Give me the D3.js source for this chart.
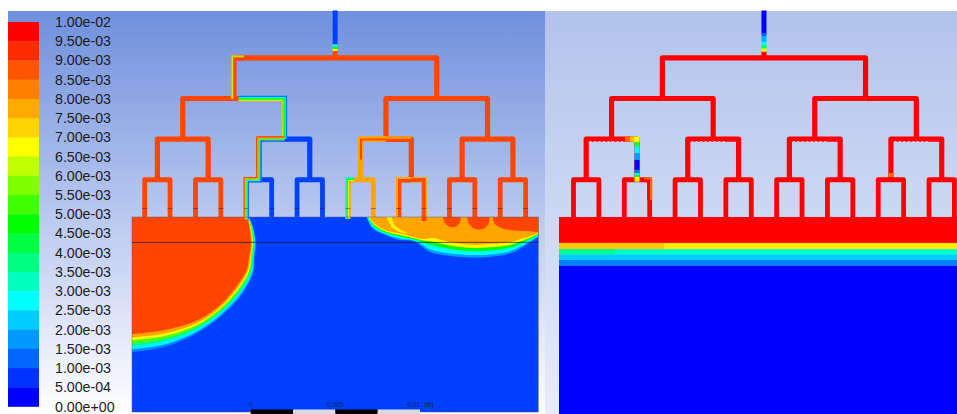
<!DOCTYPE html>
<html>
<head>
<meta charset="utf-8">
<title>Volume fraction contours</title>
<script src="https://cdn.jsdelivr.net/npm/d3@7"></script>
<style>
html, body { margin: 0; padding: 0; background: #fff; }
svg { display: block; }
text { font-family: "Liberation Sans", Arial, sans-serif; }
</style>
</head>
<body>
<div id="chart"></div>
<script>
// legend
var legendLabels = ["1.00e-02", "9.50e-03", "9.00e-03", "8.50e-03", "8.00e-03", "7.50e-03", "7.00e-03",
    "6.50e-03", "6.00e-03", "5.50e-03", "5.00e-03", "4.50e-03", "4.00e-03", "3.50e-03", "3.00e-03",
    "2.50e-03", "2.00e-03", "1.50e-03", "1.00e-03", "5.00e-04", "0.00e+00"];
var rainbowStops = [0.00025, 0.00275, 0.00475, 0.00675, 0.00975];
var rainbowColors = ["#0000ff", "#00ffff", "#00ff00", "#ffff00", "#ff0000"];

// field levels
var BURN = 0.00894, AMBER = 0.00781, COLD = 0.00088, FULL = 0.01, EMPTY = 0.0002;

// geometry in mm, plate top is depth 0
var plateWidth = 24, plateDepth = 11.52;
var inletTop = -12.2;
var levelDepths = [-9.4, -7, -4.6, -2.2, 0];
var branchWidths = [5.2, 5.2, 5.2, 4.8];
var meterDepth = -0.5, cutDepth = 1.5;

// left panel: base value of each branch, per level
var leftLevel1 = [BURN, BURN];
var leftLevel2 = [BURN, BURN, BURN, BURN];
var leftLevel3 = [BURN, BURN, BURN, COLD, AMBER, BURN, BURN, BURN];
var leftLevel4 = [BURN, BURN, BURN, BURN, BURN, COLD, COLD, COLD,
    AMBER, AMBER, AMBER, BURN, BURN, BURN, BURN, BURN];
var leftInletDepths = [-12.2, -10.2, -10.05, -9.93, -9.8];
var leftInletValues = [COLD, 0.0027, 0.0048, 0.0068];

// left panel: films running along channels, first value on the walker's right
var leftFilms = [
    {route: [[6.6, -9.4], [6, -9.4], [6, -7]], values: [AMBER, 0.0062, 0.0085, BURN, BURN]},
    {route: [[6.3, -7], [9, -7], [9, -4.6]], values: [0.0072, 0.0055, 0.0045, 0.0029, 0.0014]},
    {route: [[9, -4.6], [7.5, -4.6], [7.5, -2.2], [6.75, -2.2], [6.75, 0.15]], values: [BURN, AMBER, 0.0055, 0.0029, 0.0014]},
    {route: [[13.5, -3.4], [13.5, -2.2]], values: [AMBER]},
    {route: [[15, -4.6], [13.5, -4.6], [13.5, -3.4]], values: [AMBER, AMBER, BURN, BURN, AMBER]},
    {route: [[15, -4.6], [16.5, -4.6]], values: [BURN, BURN, BURN, AMBER, AMBER]},
    {route: [[13.1, -2.2], [12.75, -2.2], [12.75, 0.12]], values: [0.0027, 0.0036, 0.005, 0.0067, AMBER]},
    {route: [[16.5, -2.2], [15.75, -2.2], [15.75, 0]], values: [AMBER, AMBER, BURN, BURN, BURN]},
    {route: [[16.5, -2.2], [17.25, -2.2], [17.25, 0]], values: [AMBER, BURN, BURN, BURN, AMBER]}
];

// left panel: contours of the big front, from the red core outwards
var blobRed = [[6.83, 0], [6.93, 0.59], [7.03, 1.48], [6.91, 2.42], [6.77, 3.13], [6.14, 4.13], [5.2, 5.2], [3.9, 6.08], [1.95, 6.67], [0, 6.91]];
var blobOrange = [[6.85, 0], [6.98, 0.59], [7.09, 1.48], [6.98, 2.42], [6.85, 3.16], [6.19, 4.25], [5.2, 5.34], [3.88, 6.24], [1.93, 6.88], [0, 7.11]];
var blobYellow = [[6.86, 0], [7.01, 0.59], [7.13, 1.48], [7.03, 2.42], [6.91, 3.2], [6.22, 4.34], [5.2, 5.44], [3.87, 6.36], [1.91, 7.03], [0, 7.28]];
var blobLime = [[6.87, 0], [7.05, 0.59], [7.17, 1.48], [7.08, 2.42], [6.97, 3.22], [6.26, 4.44], [5.2, 5.56], [3.86, 6.48], [1.9, 7.19], [0, 7.45]];
var blobTeal = [[6.88, 0], [7.08, 0.59], [7.21, 1.48], [7.13, 2.42], [7.03, 3.25], [6.3, 4.52], [5.2, 5.66], [3.85, 6.6], [1.88, 7.35], [0, 7.61]];
var blobCyan = [[6.9, 0], [7.13, 0.59], [7.27, 1.48], [7.19, 2.42], [7.1, 3.29], [6.34, 4.64], [5.2, 5.8], [3.83, 6.76], [1.86, 7.55], [0, 7.82]];
var blobOuter = [[6.91, 0], [7.16, 0.59], [7.31, 1.48], [7.24, 2.42], [7.16, 3.31], [6.38, 4.73], [5.2, 5.91], [3.82, 6.88], [1.85, 7.7], [0, 7.98]];
var blobFronts = [blobOuter, blobCyan, blobTeal, blobLime, blobYellow, blobOrange, blobRed];
var blobValues = [0.0016, 0.0026, 0.0037, 0.0054, 0.0068, AMBER, BURN];

// left panel: contours of the shallow front on the right
var shallowOuter = [[13.85, 0], [14.18, 0.65], [14.94, 1.06], [15.83, 1.36], [16.54, 1.42], [17.01, 1.65], [17.6, 2.07], [18.78, 2.3], [19.96, 2.39], [21.14, 2.36], [22.32, 2.16], [23.15, 1.74], [24.04, 1.15]];
var shallowCyan = [[13.89, 0], [14.22, 0.6], [14.98, 1.01], [15.87, 1.29], [16.58, 1.38], [17.06, 1.58], [17.62, 1.92], [18.78, 2.15], [19.96, 2.24], [21.14, 2.21], [22.32, 2.02], [23.15, 1.64], [24.04, 1.11]];
var shallowLime = [[13.94, 0], [14.27, 0.53], [15.03, 0.95], [15.92, 1.18], [16.63, 1.32], [17.13, 1.48], [17.66, 1.66], [18.78, 1.89], [19.96, 2.01], [21.14, 1.98], [22.32, 1.82], [23.15, 1.49], [24.04, 1.05]];
var shallowYellow = [[13.98, 0], [14.31, 0.47], [15.07, 0.89], [15.96, 1.09], [16.68, 1.26], [17.19, 1.39], [17.69, 1.45], [18.78, 1.69], [19.96, 1.82], [21.14, 1.79], [22.32, 1.65], [23.15, 1.37], [24.04, 0.99]];
var shallowOrange = [[14.03, 0], [14.36, 0.41], [15.12, 0.83], [16, 1], [16.72, 1.21], [17.25, 1.3], [17.72, 1.24], [18.78, 1.48], [19.96, 1.63], [21.14, 1.6], [22.32, 1.48], [23.15, 1.24], [24.04, 0.94]];
var shallowFronts = [shallowOuter, shallowCyan, shallowLime, shallowYellow, shallowOrange];
var shallowValues = [0.0018, 0.0028, 0.0048, 0.0068, AMBER];

var filament = [[15.04, 0], [15.3, 0], [15.55, 0.53], [16.27, 0.96], [15.83, 0.89], [15.33, 0.6]];
var lobes = [
    [[17.1, 0], [17.12, 0.2], [17.25, 0.26], [17.38, 0.2], [17.4, 0]],
    [[18.38, 0], [18.45, 0.3], [18.75, 0.58], [19.1, 0.58], [19.38, 0.3], [19.42, 0]],
    [[19.8, 0], [19.88, 0.35], [20.2, 0.68], [20.7, 0.72], [21.05, 0.42], [21.12, 0]],
    [[21.3, 0], [21.42, 0.4], [21.9, 0.68], [22.6, 0.8], [23.4, 0.83], [24.04, 0.83], [24.04, 0]]
];

// right panel
var rightInletDepths = [-12.2, -10.87, -10.69, -10.35, -10.16, -9.96, -9.76];
var rightInletValues = [EMPTY, 0.0012, 0.002, 0.0027, 0.004, 0.0065];
var rightStemDepths = [-4.6, -4.43, -4.25, -4.08, -3.78, -3.37, -2.78, -2.6, -2.48, -2.36, -2.1];
var rightStemValues = [0.0067, 0.005, 0.0035, 0.0027, 0.0018, EMPTY, 0.0015, 0.0027, 0.005, 0.0067];
var rightElbowX = [3.79, 4.09, 4.32, 4.62];
var rightElbowValues = [0.0085, 0.0075, 0.0067];
var rightFilm = {route: [[4.9, -2.2], [5.25, -2.2], [5.25, -1]], values: [FULL, FULL, FULL, 0.0085, 0.0085]};
var rightSpotDepths = [-2.6, -2.38];
var rightSpotX = 19.5, rightSpotValue = 0.0085;
var speckleCentres = [3, 9, 15, 21];
var speckleDepth = -4.45;
// bands below the full part of the right plate: depth limits and values at the left and right end
var rightBandDepths = [0, 1.53, 1.9, 2.22, 2.54, 2.89, plateDepth + 0.12];
var rightBandLeft = [FULL, 0.0074, 0.0036, 0.00225, 0.0015, EMPTY];
var rightBandRight = [FULL, 0.0070, 0.0032, 0.00225, 0.0015, EMPTY];
var rightBandSplit = [null, 6.1, 3.2, null, null, null];

// scale bar in metres
var barTicks = [0, 0.0025, 0.005, 0.0075, 0.01];
var barLabels = ["0", "0.005", "0.01"];
var barUnit = "(m)";

var width = 957;
var height = 414;
var pxPerMm = 16.93;

var svg = d3.select("#chart").append("svg")
    .attr("width", width)
    .attr("height", height);

var defs = svg.append("defs");

function addGradient(id, top, bottom) {
    var g = defs.append("linearGradient").attr("id", id)
        .attr("x1", 0).attr("y1", 0).attr("x2", 0).attr("y2", 1);
    g.append("stop").attr("offset", 0).attr("stop-color", top);
    g.append("stop").attr("offset", 1).attr("stop-color", bottom);
}
addGradient("bgLeft", "#7090dd", "#ffffff");
addGradient("bgRight", "#b2c3ec", "#e7ecf9");

defs.append("filter").attr("id", "soft")
    .attr("filterUnits", "userSpaceOnUse")
    .attr("x", 0).attr("y", 0).attr("width", width).attr("height", height)
    .append("feGaussianBlur").attr("stdDeviation", 0.7);

var rainbow = d3.scaleLinear().domain(rainbowStops).range(rainbowColors).clamp(true);

svg.append("rect").attr("x", 8).attr("y", 11).attr("width", 537).attr("height", 403)
    .attr("fill", "url(#bgLeft)");
svg.append("rect").attr("x", 545).attr("y", 11).attr("width", 412).attr("height", 403)
    .attr("fill", "url(#bgRight)");

var y = d3.scaleLinear().domain([0, plateDepth]).range([217, 217 + plateDepth * pxPerMm]);
var xLeft = d3.scaleLinear().domain([0, plateWidth]).range([132, 132 + plateWidth * pxPerMm]);
var xRight = d3.scaleLinear().domain([0, plateWidth]).range([560.8, 560.8 + plateWidth * pxPerMm]);

// ---- legend
var legendValues = legendLabels.map(function(d) { return +d; });
var legendY = d3.scaleLinear().domain([0, 0.01]).range([406.5, 22]);
var legend = svg.append("g");
legend.selectAll("rect").data(legendValues.slice(1)).enter().append("rect")
    .attr("x", 8)
    .attr("width", 31)
    .attr("y", function(d) { return legendY(d + 0.0005); })
    .attr("height", function(d) { return legendY(d) - legendY(d + 0.0005) + 0.3; })
    .attr("fill", function(d) { return rainbow(d + 0.00025); });
legend.selectAll("text").data(legendLabels).enter().append("text")
    .attr("x", 55)
    .attr("y", function(d) { return legendY(+d) + 5; })
    .attr("font-size", 14.2)
    .attr("fill", "#1c1c24")
    .text(function(d) { return d; });

// ---- helpers
function branches(level) {
    // binary tree: level 1..4, each branch leaves its parent's crossbar
    var n = Math.pow(2, level);
    return d3.range(n).map(function(k) {
        var own = plateWidth / n * (k + 0.5);
        var parent = plateWidth / (n / 2) * (Math.floor(k / 2) + 0.5);
        return [[parent, levelDepths[level - 1]], [own, levelDepths[level - 1]], [own, levelDepths[level]]];
    });
}

function drawTree(g, x, levels) {
    var line = d3.line().x(function(d) { return x(d[0]); }).y(function(d) { return y(d[1]); });
    levels.forEach(function(values, i) {
        g.selectAll("path.l" + i).data(branches(i + 1)).enter().append("path")
            .attr("class", "l" + i)
            .attr("d", line)
            .attr("fill", "none")
            .attr("stroke", function(d, k) { return rainbow(values[k]); })
            .attr("stroke-width", branchWidths[i])
            .attr("stroke-linejoin", "round");
    });
}

function drawStack(g, x, xPos, depths, values, w) {
    // one vertical channel cut into pieces along its length
    g.selectAll(null).data(values).enter().append("rect")
        .attr("x", x(xPos) - w / 2)
        .attr("width", w)
        .attr("y", function(d, i) { return y(depths[i]); })
        .attr("height", function(d, i) { return y(depths[i + 1]) - y(depths[i]) + 0.3; })
        .attr("fill", function(d) { return rainbow(d); });
}

function offsetRoute(pts, d) {
    // pts in pixels, axis aligned; positive d goes to the walker's right
    var normals = d3.pairs(pts).map(function(p) {
        var dx = p[1][0] - p[0][0], dy = p[1][1] - p[0][1];
        var len = Math.sqrt(dx * dx + dy * dy);
        return [-dy / len, dx / len];
    });
    return pts.map(function(p, i) {
        var a = normals[Math.max(i - 1, 0)], b = normals[Math.min(i, normals.length - 1)];
        var nx = a[0] === b[0] ? a[0] : a[0] + b[0];
        var ny = a[1] === b[1] ? a[1] : a[1] + b[1];
        return [p[0] + nx * d, p[1] + ny * d];
    });
}

function drawFilm(g, x, film, w) {
    var pts = film.route.map(function(p) { return [x(p[0]), y(p[1])]; });
    var n = film.values.length;
    film.values.forEach(function(v, i) {
        g.append("path")
            .attr("d", d3.line()(offsetRoute(pts, w * (0.5 - (i + 0.5) / n))))
            .attr("fill", "none")
            .attr("stroke", rainbow(v))
            .attr("stroke-width", w / n + 0.3);
    });
}

function closedFront(x, front, corner) {
    var line = d3.line().curve(d3.curveCatmullRom)
        .x(function(d) { return x(d[0]); }).y(function(d) { return y(d[1]); });
    return line(front) + "L" + x(corner[0]) + "," + y(corner[1]) + "Z";
}

// ---- left panel
defs.append("clipPath").attr("id", "clipPlateLeft").append("rect")
    .attr("x", xLeft(0)).attr("y", y(0))
    .attr("width", xLeft(plateWidth) - xLeft(0)).attr("height", y(plateDepth) - y(0));

var left = svg.append("g").attr("filter", "url(#soft)");
drawStack(left, xLeft, 12, leftInletDepths.concat([levelDepths[0]]), leftInletValues.concat([BURN]), 5);
drawTree(left, xLeft, [leftLevel1, leftLevel2, leftLevel3, leftLevel4]);

left.append("rect")
    .attr("x", xLeft(0)).attr("y", y(0))
    .attr("width", xLeft(plateWidth) - xLeft(0)).attr("height", y(plateDepth) - y(0))
    .attr("fill", rainbow(COLD));

var plateLeft = left.append("g").attr("clip-path", "url(#clipPlateLeft)");
plateLeft.selectAll("path.blob").data(blobFronts).enter().append("path")
    .attr("class", "blob")
    .attr("d", function(d) { return closedFront(xLeft, d, [0, 0]); })
    .attr("fill", function(d, i) { return rainbow(blobValues[i]); });
plateLeft.selectAll("path.shallow").data(shallowFronts).enter().append("path")
    .attr("class", "shallow")
    .attr("d", function(d) { return closedFront(xLeft, d, [plateWidth + 0.04, 0]); })
    .attr("fill", function(d, i) { return rainbow(shallowValues[i]); });
plateLeft.append("path")
    .attr("d", closedFront(xLeft, filament, filament[0]))
    .attr("fill", rainbow(0.0069));
plateLeft.selectAll("path.lobe").data(lobes).enter().append("path")
    .attr("class", "lobe")
    .attr("d", function(d) { return closedFront(xLeft, d, d[0]); })
    .attr("fill", rainbow(BURN));

leftFilms.forEach(function(f) { drawFilm(left, xLeft, f, 5.2); });

// plate outline, the cut line and the small marks on the last branches
left.append("rect")
    .attr("x", xLeft(0)).attr("y", y(0))
    .attr("width", xLeft(plateWidth) - xLeft(0)).attr("height", y(plateDepth) - y(0))
    .attr("fill", "none").attr("stroke", "#5a6078").attr("stroke-opacity", 0.6).attr("stroke-width", 0.8);
left.append("line")
    .attr("x1", xLeft(0)).attr("x2", xLeft(plateWidth))
    .attr("y1", y(cutDepth)).attr("y2", y(cutDepth))
    .attr("stroke", "#1a1a2a").attr("stroke-opacity", 0.7).attr("stroke-width", 1);
left.selectAll("line.meter").data(branches(4)).enter().append("line")
    .attr("class", "meter")
    .attr("x1", function(d) { return xLeft(d[1][0]) - 2.5; })
    .attr("x2", function(d) { return xLeft(d[1][0]) + 2.5; })
    .attr("y1", y(meterDepth)).attr("y2", y(meterDepth))
    .attr("stroke", "#1a1a2a").attr("stroke-opacity", 0.42).attr("stroke-width", 1);

// ---- right panel
var right = svg.append("g").attr("filter", "url(#soft)");
drawStack(right, xRight, 12, rightInletDepths.concat([levelDepths[0]]), rightInletValues.concat([FULL]), 5);
function allFull(n) { return d3.range(n).map(function() { return FULL; }); }
drawTree(right, xRight, [allFull(2), allFull(4), allFull(8), allFull(16)]);

rightBandLeft.forEach(function(v, i) {
    var top = y(rightBandDepths[i]);
    var h = y(rightBandDepths[i + 1]) - top + 0.3;
    right.append("rect")
        .attr("x", xRight(-0.106)).attr("y", top)
        .attr("width", width - xRight(-0.106) + 4).attr("height", h)
        .attr("fill", rainbow(rightBandRight[i]));
    if (rightBandSplit[i] !== null) {
        right.append("rect")
            .attr("x", xRight(-0.106)).attr("y", top)
            .attr("width", xRight(rightBandSplit[i]) - xRight(-0.106)).attr("height", h)
            .attr("fill", rainbow(v));
    }
});

drawStack(right, xRight, 4.5, rightStemDepths, rightStemValues, 5);
right.selectAll(null).data(rightElbowValues).enter().append("rect")
    .attr("x", function(d, i) { return xRight(rightElbowX[i]); })
    .attr("width", function(d, i) { return xRight(rightElbowX[i + 1]) - xRight(rightElbowX[i]) + 0.3; })
    .attr("y", y(levelDepths[2]) - 2.6)
    .attr("height", 5.2)
    .attr("fill", function(d) { return rainbow(d); });
drawFilm(right, xRight, rightFilm, 4.8);
drawStack(right, xRight, rightSpotX, rightSpotDepths, [rightSpotValue], 5);

right.selectAll("line.speckle").data(speckleCentres).enter().append("line")
    .attr("class", "speckle")
    .attr("x1", function(d) { return xRight(d - 1.3); })
    .attr("x2", function(d) { return xRight(d + 0.8); })
    .attr("y1", y(speckleDepth)).attr("y2", y(speckleDepth))
    .attr("stroke", "#ffffff").attr("stroke-opacity", 0.75)
    .attr("stroke-width", 1).attr("stroke-dasharray", "2 2.5");

// ---- scale bar
var barX = d3.scaleLinear().domain([0, 0.01]).range([250.7, 420]);
var bar = svg.append("g");
bar.selectAll("rect").data(d3.pairs(barTicks)).enter().append("rect")
    .attr("x", function(d) { return barX(d[0]); })
    .attr("y", 409.5)
    .attr("width", function(d) { return barX(d[1]) - barX(d[0]); })
    .attr("height", 4.5)
    .attr("fill", function(d, i) { return i % 2 ? "#dcdcdc" : "#000000"; });
bar.selectAll("text").data(barLabels).enter().append("text")
    .attr("x", function(d) { return barX(+d); })
    .attr("y", 406.6)
    .attr("font-size", 6.4)
    .attr("fill", "#15203a")
    .attr("text-anchor", function(d, i) { return i === 2 ? "end" : "middle"; })
    .text(function(d) { return d; });
bar.append("text")
    .attr("x", barX(0.01) + 4).attr("y", 406.6)
    .attr("font-size", 6.4).attr("fill", "#15203a")
    .text(barUnit);
</script>
</body>
</html>
